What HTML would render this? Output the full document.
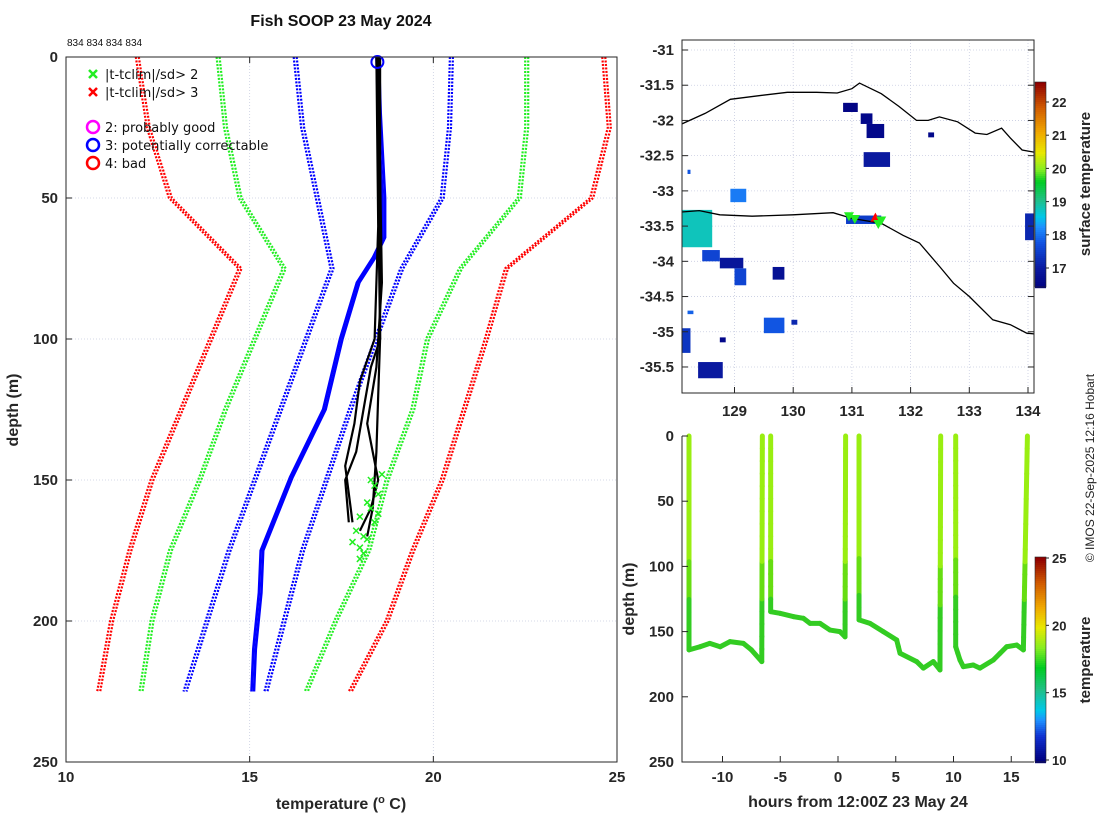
<!DOCTYPE html>
<html><head><meta charset="utf-8">
<style>
html,body{margin:0;padding:0;background:#fff;}
svg{display:block;font-family:"Liberation Sans","DejaVu Sans",sans-serif;}
.tk{font-size:15px;font-weight:bold;fill:#262626;}
.lab{font-size:16px;font-weight:bold;fill:#262626;}
</style></head>
<body>
<svg id="s" width="1100" height="820" viewBox="0 0 1100 820" xmlns="http://www.w3.org/2000/svg">
<text x="341" y="26" text-anchor="middle" style="font-size:16px;font-weight:bold" fill="#111">Fish SOOP 23 May 2024</text>
<text x="67" y="46" style="font-size:10px" fill="#111">834 834 834 834</text>
<text transform="translate(1094,468) rotate(-90)" text-anchor="middle" style="font-size:12px" fill="#222">© IMOS 22-Sep-2025 12:16 Hobart</text>
<text x="341" y="809" text-anchor="middle" class="lab">temperature (<tspan dy="-6" style="font-size:11px">o</tspan><tspan dy="6"> C)</tspan></text>
<text transform="translate(18,410) rotate(-90)" text-anchor="middle" class="lab">depth (m)</text>
<text x="858" y="807" text-anchor="middle" class="lab">hours from 12:00Z 23 May 24</text>
<text transform="translate(634,599) rotate(-90)" text-anchor="middle" class="lab">depth (m)</text>
<text transform="translate(1090,184) rotate(-90)" text-anchor="middle" style="font-size:15px;font-weight:bold" fill="#262626">surface temperature</text>
<text transform="translate(1090,660) rotate(-90)" text-anchor="middle" style="font-size:15px;font-weight:bold" fill="#262626">temperature</text>
</svg>
<script>
// ===== Main profile plot data =====
const climDepths = [0, 25, 50, 75, 100, 125, 150, 175, 200, 225];
const redRight   = [24.6, 24.75, 24.27, 21.95, 21.4, 20.8, 20.2, 19.4, 18.7, 17.7];
const greenRight = [22.5, 22.5, 22.3, 20.7, 19.8, 19.4, 18.7, 18.2, 17.3, 16.5];
const blueRight  = [20.45, 20.4, 20.2, 19.1, 18.4, 17.7, 17.05, 16.4, 15.9, 15.4];
const blueLeft   = [16.2, 16.4, 16.8, 17.2, 16.5, 15.8, 15.1, 14.4, 13.8, 13.2];
const greenLeft  = [14.1, 14.3, 14.7, 15.9, 15.1, 14.3, 13.6, 12.8, 12.3, 12.0];
const redLeft    = [11.9, 12.2, 12.8, 14.7, 13.9, 13.1, 12.3, 11.7, 11.2, 10.85];
const blueProfDepths = [0, 20, 50, 64, 71, 80, 100, 125, 149, 175, 190, 210, 225];
const blueProfTemps  = [18.45, 18.5, 18.62, 18.62, 18.36, 17.92, 17.46, 17.0, 16.1, 15.3, 15.25, 15.1, 15.05];
const blk1D = [0, 50, 100, 120, 140, 160, 170];
const blk1T = [18.5, 18.5, 18.55, 18.5, 18.45, 18.35, 18.2];
const blk2D = [0, 60, 100, 115, 130, 145, 160, 165];
const blk2T = [18.45, 18.5, 18.4, 18.0, 17.85, 17.6, 17.75, 17.8];
const blk3D = [0, 100, 110, 125, 140, 150, 165];
const blk3T = [18.55, 18.55, 18.3, 18.1, 17.9, 17.6, 17.7];
const blk4D = [0, 80, 110, 130, 150, 160, 168];
const blk4T = [18.5, 18.6, 18.45, 18.2, 18.5, 18.3, 18.0];
const flagD = [148, 152, 155, 158, 160, 163, 165, 168, 170, 172, 174, 176, 178, 150, 162, 171];
const flagT = [18.6, 18.4, 18.5, 18.2, 18.3, 18.0, 18.4, 17.9, 18.1, 17.8, 18.0, 18.1, 18.0, 18.3, 18.5, 18.2];
const mainXTicks = [10, 15, 20, 25];
const mainYTicks = [0, 50, 100, 150, 200, 250];

// ===== Map data =====
const coastNLon = [128.1,128.5,128.93,129.4,129.9,130.4,130.75,131.0,131.13,131.5,131.8,132.1,132.3,132.49,132.8,133.1,133.3,133.55,133.7,133.9,134.1];
const coastNLat = [-32.05,-31.9,-31.7,-31.65,-31.6,-31.6,-31.61,-31.55,-31.47,-31.62,-31.8,-32.0,-32.0,-31.95,-32.02,-32.18,-32.2,-32.11,-32.25,-32.42,-32.45];
const coastSLon = [128.1,128.4,128.75,129.3,130.0,130.68,131.0,131.5,131.87,132.15,132.5,132.73,133.0,133.4,133.7,133.98,134.1];
const coastSLat = [-33.3,-33.28,-33.34,-33.36,-33.34,-33.31,-33.39,-33.46,-33.63,-33.74,-34.08,-34.31,-34.5,-34.83,-34.9,-35.02,-35.03];
const sstLon0 = [130.85,131.15,131.25,131.2,132.3,128.93,128.1,128.45,128.75,129.0,129.65,128.1,128.2,128.38,129.5,129.97,133.95,130.9,128.2,128.75];
const sstLon1 = [131.1,131.35,131.55,131.65,132.4,129.2,128.62,128.75,129.15,129.2,129.85,128.25,128.3,128.8,129.85,130.07,134.1,131.5,128.25,128.85];
const sstLat0 = [-31.75,-31.9,-32.05,-32.45,-32.17,-32.97,-33.27,-33.84,-33.95,-34.1,-34.08,-34.95,-34.7,-35.43,-34.8,-34.83,-33.32,-33.35,-32.7,-35.08];
const sstLat1 = [-31.88,-32.05,-32.25,-32.66,-32.24,-33.16,-33.8,-34.0,-34.1,-34.34,-34.26,-35.3,-34.75,-35.66,-35.02,-34.9,-33.7,-33.47,-32.76,-35.15];
const sstTemp = [16.5,16.6,16.6,17.0,16.6,18.1,18.8,17.6,16.9,17.6,16.8,17.4,17.9,17.0,17.8,17.2,17.2,17.5,17.8,16.6];
const markLon = [130.95,131.05,131.4,131.5,131.45];
const markLat = [-33.36,-33.4,-33.38,-33.42,-33.47];
const markFlag = ['g','g','r','g','g'];
const mapXTicks = [129,130,131,132,133,134];
const mapYTicks = [-31,-31.5,-32,-32.5,-33,-33.5,-34,-34.5,-35,-35.5];
const sstCbTicks = [17,18,19,20,21,22];

// ===== Time-depth data =====
const seg1H = [-12.9,-12.9,-11.95,-11.1,-10.2,-9.35,-8.2,-7.5,-6.6,-6.55];
const seg1D = [0,164,161.6,159,161.6,157.7,159,164,173,0];
const seg2H = [-5.83,-5.83,-5.02,-3.87,-3.0,-2.42,-1.56,-0.69,0.17,0.61,0.66];
const seg2D = [0,134.7,136,138.5,139.8,143.7,143.7,148.8,150,154,0];
const seg3H = [1.82,1.82,2.77,3.92,5.08,5.37,6.81,7.39,8.25,8.83,8.89];
const seg3D = [0,141,143.7,150,156.4,166.6,173,178,173,179.4,0];
const seg4H = [10.19,10.19,10.56,10.85,11.71,12.29,13.45,14.6,15.47,16.05,16.4];
const seg4D = [0,161.6,171.8,176.9,175.6,178,171.8,161.6,160.3,164,0];
const tdXTicks = [-10,-5,0,5,10,15];
const tdYTicks = [0,50,100,150,200,250];
const tCbTicks = [10,15,20,25];

const NS='http://www.w3.org/2000/svg';
const svg=document.getElementById('s');
function mk(tag,attrs,parent){const e=document.createElementNS(NS,tag);for(const k in attrs)e.setAttribute(k,attrs[k]);(parent||svg).appendChild(e);return e;}

const mx=t=>66+(t-10)*(551/15), my=d=>57+d*(705/250);
const lx=l=>734.5+(l-129)*58.7, ly=a=>50+(-31-a)*70.44;
const hx=h=>838+h*11.55, hy=d=>436+d*(326/250);

// ---- Main plot ----
const gMain=mk('g',{});


mainXTicks.slice(1,-1).forEach(t=>{const l=mk('line',{x1:mx(t),x2:mx(t),y1:57,y2:762,stroke:'#c8cce0','stroke-width':0.8,'stroke-dasharray':'1,2'},gMain);});
mainYTicks.slice(1,-1).forEach(t=>{const l=mk('line',{x1:66,x2:617,y1:my(t),y2:my(t),stroke:'#c8cce0','stroke-width':0.8,'stroke-dasharray':'1,2'},gMain);});
function pathFrom(D,T,fx,fy){return D.map((d,i)=>(i?'L':'M')+fx(T[i]).toFixed(1)+','+fy(d).toFixed(1)).join('');}
[[redRight,'#f00'],[greenRight,'#2e2'],[blueRight,'#00f'],[blueLeft,'#00f'],[greenLeft,'#2e2'],[redLeft,'#f00']].forEach(([arr,c],k)=>{
  [0,3].forEach(off=>{
    const p=mk('path',{d:pathFrom(climDepths,arr,t=>mx(t)+off,my),fill:'none',stroke:c,'stroke-width':2.2,'stroke-dasharray':'2,1.5'},gMain);
    
    
  });
});
[0,2.5].forEach(off=>{
  const p=mk('path',{d:pathFrom(blueProfDepths,blueProfTemps,t=>mx(t)+off,my),fill:'none',stroke:'#00f','stroke-width':2.6},gMain);
  
  
});
[[blk1D,blk1T],[blk2D,blk2T],[blk3D,blk3T],[blk4D,blk4T]].forEach(([D,T])=>{
  const p=mk('path',{d:pathFrom(D,T,mx,my),fill:'none',stroke:'#000','stroke-width':2.2},gMain);
  
  
});
flagD.forEach((d,i)=>{
  const x=mx(flagT[i]),y=my(d);
  const p=mk('path',{d:`M${x-3},${y-3}L${x+3},${y+3}M${x-3},${y+3}L${x+3},${y-3}`,stroke:'#2e2','stroke-width':1.5},gMain);
  
  
});
const ci=mk('circle',{cx:mx(blueProfTemps[0])+1,cy:my(0)+5,r:6,fill:'none',stroke:'#00f','stroke-width':2},gMain);


mk('rect',{x:66,y:57,width:551,height:705,fill:'none',stroke:'#262626','stroke-width':1},gMain);
mainXTicks.forEach(t=>{mk('line',{x1:mx(t),x2:mx(t),y1:762,y2:756,stroke:'#262626'},gMain);mk('line',{x1:mx(t),x2:mx(t),y1:57,y2:63,stroke:'#262626'},gMain);
  const tx=mk('text',{x:mx(t),y:782,'text-anchor':'middle',class:'tk'},gMain);tx.textContent=t;});
mainYTicks.forEach(t=>{mk('line',{x1:66,x2:72,y1:my(t),y2:my(t),stroke:'#262626'},gMain);
  const tx=mk('text',{x:58,y:my(t)+5,'text-anchor':'end',class:'tk'},gMain);tx.textContent=t;});
const leg=mk('g',{},gMain);


[['x','#2e2','|t-tclim|/sd> 2',74],['x','#f00','|t-tclim|/sd> 3',92],['o','#f0f','2: probably good',127],['o','#00f','3: potentially correctable',145],['o','#f00','4: bad',163]].forEach(([s,c,txt,y])=>{
  const x=93;
  if(s==='x') mk('path',{d:`M${x-4},${y-4}L${x+4},${y+4}M${x-4},${y+4}L${x+4},${y-4}`,stroke:c,'stroke-width':2.5},leg);
  else mk('circle',{cx:x,cy:y,r:6,fill:'none',stroke:c,'stroke-width':2.5},leg);
  const t=mk('text',{x:105,y:y+5,style:'font-size:13px;font-family:\"DejaVu Sans\",sans-serif',fill:'#111'},leg);t.textContent=txt;
  
  
});

const sstStops=[[0,'#00007f'],[0.1,'#0a1aa0'],[0.22,'#1050e0'],[0.3,'#1e90ff'],[0.35,'#00c8e8'],[0.43,'#20c088'],[0.52,'#00cc22'],[0.58,'#88ee22'],[0.66,'#e8e800'],[0.76,'#f0a800'],[0.88,'#d05a00'],[1,'#8f0000']];
function hex(c){return [1,3,5].map(i=>parseInt(c.substr(i,2),16));}
function cmap(v,stops){v=Math.max(0,Math.min(1,v));for(let i=1;i<stops.length;i++){if(v<=stops[i][0]){const f=(v-stops[i-1][0])/(stops[i][0]-stops[i-1][0]);const a=hex(stops[i-1][1]),b=hex(stops[i][1]);return 'rgb('+a.map((x,k)=>Math.round(x+(b[k]-x)*f)).join(',')+')';}}return stops[stops.length-1][1];}
const sstMin=16.4,sstMax=22.6;

// ---- Map ----
const gMap=mk('g',{});


mapXTicks.forEach(t=>{const l=mk('line',{x1:lx(t),x2:lx(t),y1:40,y2:393,stroke:'#c8cce0','stroke-width':0.8,'stroke-dasharray':'1,2'},gMap);});
mapYTicks.forEach(t=>{const l=mk('line',{x1:682,x2:1034,y1:ly(t),y2:ly(t),stroke:'#c8cce0','stroke-width':0.8,'stroke-dasharray':'1,2'},gMap);});
sstTemp.forEach((v,i)=>{
  const r=mk('rect',{x:lx(sstLon0[i]),y:ly(sstLat0[i]),width:lx(sstLon1[i])-lx(sstLon0[i]),height:ly(sstLat1[i])-ly(sstLat0[i]),fill:cmap((v-sstMin)/(sstMax-sstMin),sstStops)},gMap);
  
  
});
[[coastNLon,coastNLat],[coastSLon,coastSLat]].forEach(([Lo,La])=>{
  const p=mk('path',{d:Lo.map((l,i)=>(i?'L':'M')+lx(l).toFixed(1)+','+ly(La[i]).toFixed(1)).join(''),fill:'none',stroke:'#000','stroke-width':1.3},gMap);
  
  
});
markLon.forEach((l,i)=>{
  const x=lx(l),y=ly(markLat[i]);const c=markFlag[i]==='g'?'#2e2':'#f00';
  const d=markFlag[i]==='g'?`M${x-5},${y-4}L${x+5},${y-4}L${x},${y+5}Z`:`M${x-5},${y+4}L${x+5},${y+4}L${x},${y-5}Z`;
  const p=mk('path',{d,fill:c},gMap);
  
  
});
mk('rect',{x:682,y:40,width:352,height:353,fill:'none',stroke:'#262626'},gMap);
mapXTicks.forEach(t=>{mk('line',{x1:lx(t),x2:lx(t),y1:393,y2:387,stroke:'#262626'},gMap);
  const tx=mk('text',{x:lx(t),y:416,'text-anchor':'middle',class:'tk'},gMap);tx.textContent=t;});
mapYTicks.forEach(t=>{mk('line',{x1:682,x2:688,y1:ly(t),y2:ly(t),stroke:'#262626'},gMap);mk('line',{x1:1034,x2:1028,y1:ly(t),y2:ly(t),stroke:'#262626'},gMap);
  const tx=mk('text',{x:674,y:ly(t)+5,'text-anchor':'end',class:'tk'},gMap);tx.textContent=t;});
const cb1=mk('g',{});


const cby=v=>268-(v-17)*33.2;
for(let y=82;y<287;y+=2){const v=17-(y-268)/33.2;mk('rect',{x:1035,y:y,width:11,height:2.2,fill:cmap((v-sstMin)/(sstMax-sstMin),sstStops)},cb1);}
mk('rect',{x:1035,y:82,width:11,height:205,fill:'none',stroke:'#262626','stroke-width':0.6},cb1);
sstCbTicks.forEach(t=>{mk('line',{x1:1046,x2:1049,y1:cby(t),y2:cby(t),stroke:'#262626'},cb1);
  const tx=mk('text',{x:1052,y:cby(t)+5,style:'font-size:13px;font-weight:bold',fill:'#262626'},cb1);tx.textContent=t;});

// ---- Time-depth ----
const gTd=mk('g',{});


function segColor(d){return d<95?'#99ee11':(d<125?'#66dd11':'#33cc22');}
[[seg1H,seg1D],[seg2H,seg2D],[seg3H,seg3D],[seg4H,seg4D]].forEach(([H,D])=>{
  for(let i=1;i<H.length;i++){
    const n=Math.max(1,Math.ceil(Math.abs(D[i]-D[i-1])/10));
    for(let k=0;k<n;k++){
      const h0=H[i-1]+(H[i]-H[i-1])*k/n,h1=H[i-1]+(H[i]-H[i-1])*(k+1)/n;
      const d0=D[i-1]+(D[i]-D[i-1])*k/n,d1=D[i-1]+(D[i]-D[i-1])*(k+1)/n;
      const l=mk('line',{x1:hx(h0),y1:hy(d0),x2:hx(h1),y2:hy(d1),stroke:segColor((d0+d1)/2),'stroke-width':5,'stroke-linecap':'round'},gTd);
      
      
    }
  }
});
mk('path',{d:'M682,436L682,762L1034,762',fill:'none',stroke:'#262626'},gTd);
tdXTicks.forEach(t=>{mk('line',{x1:hx(t),x2:hx(t),y1:762,y2:756,stroke:'#262626'},gTd);
  const tx=mk('text',{x:hx(t),y:782,'text-anchor':'middle',class:'tk'},gTd);tx.textContent=t;});
tdYTicks.forEach(t=>{mk('line',{x1:682,x2:688,y1:hy(t),y2:hy(t),stroke:'#262626'},gTd);
  const tx=mk('text',{x:674,y:hy(t)+5,'text-anchor':'end',class:'tk'},gTd);tx.textContent=t;});
const tStops=[[0,'#00007f'],[0.12,'#1030d0'],[0.2,'#1e90ff'],[0.25,'#00c8e8'],[0.35,'#20c088'],[0.46,'#00cc22'],[0.56,'#88ee22'],[0.66,'#e8e800'],[0.76,'#f0a800'],[0.88,'#d05a00'],[1,'#8f0000']];
const cb2=mk('g',{});


const tcy=v=>760-(v-10)*(202/15);
for(let y=557;y<762;y+=2){const v=10+(760-y)*15/202;mk('rect',{x:1035,y:y,width:11,height:2.2,fill:cmap((v-10)/15,tStops)},cb2);}
mk('rect',{x:1035,y:557,width:11,height:205,fill:'none',stroke:'#262626','stroke-width':0.6},cb2);
tCbTicks.forEach(t=>{mk('line',{x1:1046,x2:1049,y1:tcy(t),y2:tcy(t),stroke:'#262626'},cb2);
  const tx=mk('text',{x:1052,y:tcy(t)+5,style:'font-size:13px;font-weight:bold',fill:'#262626'},cb2);tx.textContent=t;});
</script>
</body></html>
